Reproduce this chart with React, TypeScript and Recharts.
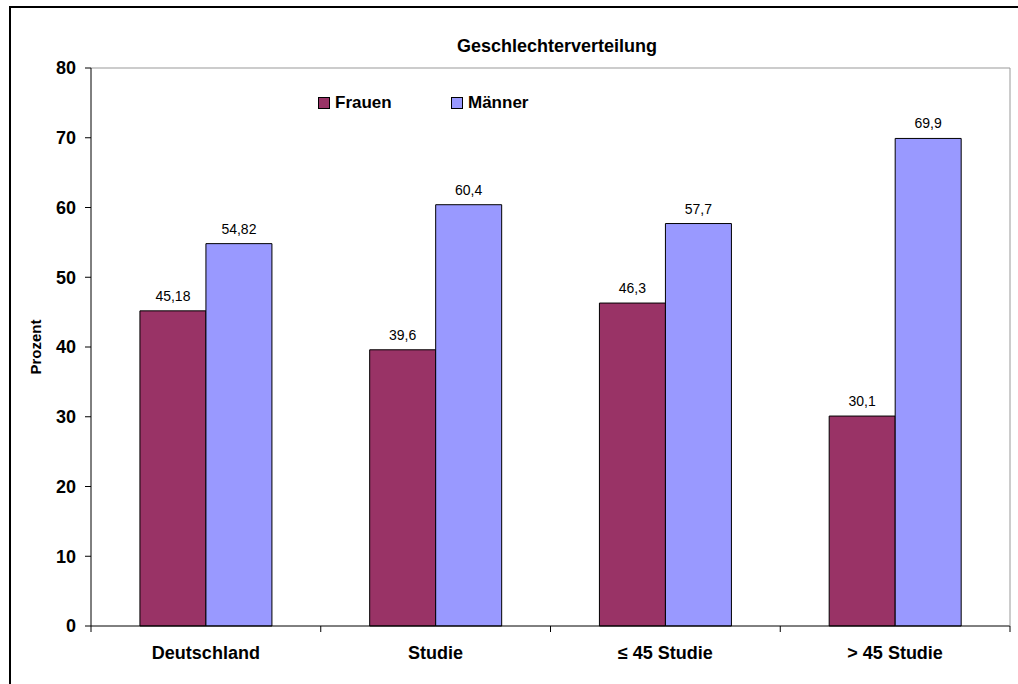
import { Bar, BarChart, LabelList, Legend, XAxis, YAxis } from "recharts"

const categories = ["Deutschland", "Studie", "≤ 45 Studie", "> 45 Studie"]
const frauen = [45.18, 39.6, 46.3, 30.1]
const maenner = [54.82, 60.4, 57.7, 69.9]
const yTicks = [0, 10, 20, 30, 40, 50, 60, 70, 80]

const data = categories.map((name, i) => ({
    name,
    Frauen: frauen[i],
    Männer: maenner[i],
}))

const font = "'Liberation Sans', Arial, sans-serif"
const commaFmt = (v: any) => String(v).replace(".", ",")
const LABEL_GAP = 20

// category label plus the short tick marks on the band edges
function CategoryTick({ x, y, payload, index }: any) {
    const half = payload?.offset ?? 0
    const axisY = y - LABEL_GAP
    return (
        <g>
            {index === 0 && <line x1={x - half} x2={x - half} y1={axisY} y2={axisY + 6} stroke="#000" />}
            <line x1={x + half} x2={x + half} y1={axisY} y2={axisY + 6} stroke="#000" />
            <text x={x} y={y} dy="0.71em" textAnchor="middle" fill="#000" fontSize={18} fontWeight="bold">
                {payload.value}
            </text>
        </g>
    )
}

function LegendBox({ payload }: any) {
    return (
        <div style={{ display: "flex", fontFamily: font, fontWeight: "bold", fontSize: 17 }}>
            {(payload || []).map((p: any) => (
                <div key={p.value} style={{ display: "flex", alignItems: "center", width: 133 }}>
                    <span
                        style={{
                            width: 10,
                            height: 10,
                            background: p.color,
                            border: "1px solid #000",
                            marginRight: 5,
                        }}
                    />
                    <span>{p.value}</span>
                </div>
            ))}
        </div>
    )
}

export default function App() {
    return (
        <div style={{ position: "absolute", left: 0, top: 0, width: 1018, height: 684, overflow: "hidden", background: "#fff" }}>
            <div
                style={{
                    position: "absolute",
                    left: 9,
                    top: 6,
                    width: 1100,
                    height: 800,
                    border: "2px solid #000",
                    pointerEvents: "none",
                }}
            />
            <BarChart
                width={1018}
                height={684}
                data={data}
                margin={{ top: 67, right: 7, bottom: 57, left: 0 }}
                barCategoryGap="21.3%"
                barGap={0}
                style={{ fontFamily: font }}
            >
                <text x={557} y={52} textAnchor="middle" fontSize={18} fontWeight="bold" fill="#000">
                    Geschlechterverteilung
                </text>
                <XAxis
                    dataKey="name"
                    height={1}
                    axisLine={{ stroke: "#000" }}
                    tickLine={false}
                    tickSize={0}
                    tickMargin={LABEL_GAP}
                    interval={0}
                    tick={<CategoryTick />}
                />
                {/* plot frame, top and right */}
                <XAxis
                    xAxisId="top"
                    orientation="top"
                    height={1}
                    tick={false}
                    tickLine={false}
                    axisLine={{ stroke: "#999" }}
                />
                <YAxis
                    yAxisId="right"
                    orientation="right"
                    width={1}
                    tick={false}
                    tickLine={false}
                    axisLine={{ stroke: "#999" }}
                />
                <YAxis
                    domain={[0, 80]}
                    ticks={yTicks}
                    width={91}
                    tickSize={6}
                    tickMargin={9}
                    axisLine={{ stroke: "#000" }}
                    tickLine={{ stroke: "#000" }}
                    tick={{ fill: "#000", fontSize: 18, fontWeight: "bold" }}
                    label={{
                        value: "Prozent",
                        angle: -90,
                        position: "insideLeft",
                        offset: 36,
                        style: { textAnchor: "middle", fontSize: 15, fontWeight: "bold", fill: "#000" },
                    }}
                />
                <Legend
                    layout="horizontal"
                    verticalAlign="middle"
                    align="center"
                    content={LegendBox}
                    wrapperStyle={{ top: 93, left: 318, width: 300, height: 22 }}
                />
                <Bar dataKey="Frauen" fill="#993366" stroke="#000" strokeWidth={1} isAnimationActive={false}>
                    <LabelList dataKey="Frauen" position="top" offset={10} formatter={commaFmt} fill="#000" fontSize={14} />
                </Bar>
                <Bar dataKey="Männer" fill="#9999FF" stroke="#000" strokeWidth={1} isAnimationActive={false}>
                    <LabelList dataKey="Männer" position="top" offset={10} formatter={commaFmt} fill="#000" fontSize={14} />
                </Bar>
            </BarChart>
        </div>
    )
}
